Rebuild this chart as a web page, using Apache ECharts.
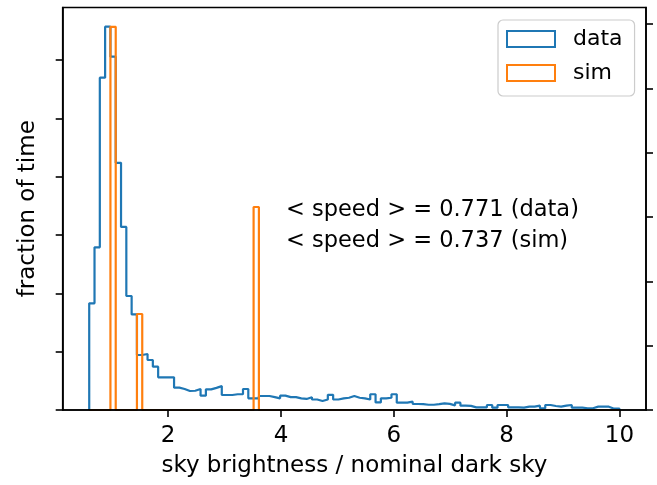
<!DOCTYPE html>
<html>
<head>
<meta charset="utf-8">
<script src="https://cdn.jsdelivr.net/npm/echarts@6/dist/echarts.min.js"></script>
<style>html,body{margin:0;padding:0;background:#fff;}#c{width:657px;height:485px;}</style>
</head>
<body>
<div id="c"></div>
<script>
// histogram binning (100 equal bins)
const binMin = 0.6;
const binMax = 10.0;
const binCount = 100;

// "data" histogram, left-axis units
const dataValues = [
  1.83, 2.79, 5.70, 6.575, 6.06, 4.24, 3.14, 1.955, 1.64, 0.943,
  0.96, 0.858, 0.743, 0.56, 0.56, 0.56, 0.383, 0.36, 0.326, 0.33,
  0.36, 0.246, 0.354, 0.38, 0.41, 0.257, 0.257, 0.27, 0.27, 0.36,
  0.2, 0.2, 0.24, 0.24, 0.22, 0.2, 0.246, 0.22, 0.22, 0.2,
  0.19, 0.22, 0.18, 0.155, 0.18, 0.26, 0.18, 0.2, 0.21, 0.24,
  0.21, 0.2, 0.18, 0.27, 0.13, 0.2, 0.21, 0.27, 0.126, 0.126,
  0.143, 0.103, 0.1, 0.09, 0.09, 0.1, 0.114, 0.105, 0.08, 0.126,
  0.074, 0.07, 0.046, 0.046, 0.046, 0.086, 0.04, 0.086, 0.086, 0.046,
  0.046, 0.04, 0.057, 0.057, 0.074, 0.03, 0.086, 0.069, 0.057, 0.074,
  0.086, 0.04, 0.04, 0.03, 0.03, 0.057, 0.057, 0.057, 0.023, 0.023
];

// "sim" histogram, right-axis units
const simValues = [
  0, 0, 0, 0, 5.96, 0, 0, 0, 0, 1.493,
  0, 0, 0, 0, 0, 0, 0, 0, 0, 0,
  0, 0, 0, 0, 0, 0, 0, 0, 0, 0,
  0, 3.157, 0, 0, 0, 0, 0, 0, 0, 0,
  0, 0, 0, 0, 0, 0, 0, 0, 0, 0,
  0, 0, 0, 0, 0, 0, 0, 0, 0, 0,
  0, 0, 0, 0, 0, 0, 0, 0, 0, 0,
  0, 0, 0, 0, 0, 0, 0, 0, 0, 0,
  0, 0, 0, 0, 0, 0, 0, 0, 0, 0,
  0, 0, 0, 0, 0, 0, 0, 0, 0, 0
];

const xTicks = [2, 4, 6, 8, 10];
const leftTicks = [0, 1, 2, 3, 4, 5, 6];
const rightTicks = [0, 1, 2, 3, 4, 5, 6];
const seriesNames = ['data', 'sim'];
const annotation = ['< speed > = 0.771 (data)', '< speed > = 0.737 (sim)'];

const binWidth = (binMax - binMin) / binCount;
const edges = [];
for (let i = 0; i <= binCount; i++) edges.push(+(binMin + i * binWidth).toFixed(4));

function outline(vals) {
  const pts = [[edges[0], 0]];
  for (let i = 0; i < vals.length; i++) pts.push([edges[i], vals[i]]);
  pts.push([edges[vals.length], vals[vals.length - 1]]);
  pts.push([edges[vals.length], 0]);
  return pts;
}

const FONT = 'DejaVu Sans';
const BLUE = '#1f77b4', ORANGE = '#ff7f0e';
const chart = echarts.init(document.getElementById('c'), null, {renderer: 'canvas'});
chart.setOption({
  animation: false,
  textStyle: {fontFamily: FONT},
  grid: {left: 62.7, right: 11, top: 7.5, bottom: 75, show: true, borderColor: '#000', borderWidth: 1.6, backgroundColor: 'transparent', z: 5},
  xAxis: {
    type: 'value', min: 0.13, max: 10.47, z: 5,
    axisLine: {show: true, onZero: false, lineStyle: {color: '#000', width: 1.6}},
    axisTick: {show: true, inside: false, length: 7, lineStyle: {color: '#000', width: 1.6}, customValues: xTicks},
    axisLabel: {customValues: xTicks, color: '#000', fontSize: 23, fontFamily: FONT, margin: 15},
    splitLine: {show: false},
    name: 'sky brightness / nominal dark sky', nameLocation: 'middle', nameGap: 45,
    nameTextStyle: {fontSize: 23, fontFamily: FONT, color: '#000'}
  },
  yAxis: [{
    type: 'value', min: 0, max: 6.904, position: 'left', z: 5,
    axisLine: {show: true, lineStyle: {color: '#000', width: 1.6}},
    axisTick: {show: true, inside: false, length: 7, lineStyle: {color: '#000', width: 1.6}, customValues: leftTicks},
    axisLabel: {show: false},
    splitLine: {show: false},
    name: 'fraction of time', nameLocation: 'middle', nameGap: 23, nameRotate: 90,
    nameTextStyle: {fontSize: 23, fontFamily: FONT, color: '#000'}
  }, {
    type: 'value', min: 0, max: 6.26, position: 'right', z: 5,
    axisLine: {show: true, lineStyle: {color: '#000', width: 1.6}},
    axisTick: {show: true, inside: false, length: 7, lineStyle: {color: '#000', width: 1.6}, customValues: rightTicks},
    axisLabel: {show: false},
    splitLine: {show: false}
  }],
  legend: {
    orient: 'vertical', left: 498, top: 20,
    padding: [8, 12, 12, 8], itemGap: 12, itemWidth: 48, itemHeight: 16,
    backgroundColor: '#fff', borderColor: '#cccccc', borderWidth: 1.2, borderRadius: 5,
    textStyle: {fontSize: 22, fontFamily: FONT, color: '#000', lineHeight: 22, padding: [0, 0, 0, 13]},
    data: [
      {name: seriesNames[0], icon: 'rect', itemStyle: {color: '#fff', borderColor: BLUE, borderWidth: 2}},
      {name: seriesNames[1], icon: 'rect', itemStyle: {color: '#fff', borderColor: ORANGE, borderWidth: 2}}
    ]
  },
  graphic: [
    {type: 'text', left: 286, top: 199, style: {text: annotation[0], font: '22.5px "DejaVu Sans"', fill: '#000'}},
    {type: 'text', left: 286, top: 230, style: {text: annotation[1], font: '22.5px "DejaVu Sans"', fill: '#000'}}
  ],
  series: [
    {name: seriesNames[0], type: 'line', yAxisIndex: 0, step: 'end', showSymbol: false, symbol: 'none',
     data: outline(dataValues), lineStyle: {color: BLUE, width: 2.2}, itemStyle: {color: BLUE}, z: 2},
    {name: seriesNames[1], type: 'line', yAxisIndex: 1, step: 'end', showSymbol: false, symbol: 'none',
     data: outline(simValues), lineStyle: {color: ORANGE, width: 2.2}, itemStyle: {color: ORANGE}, z: 3}
  ]
});
</script>
</body>
</html>
